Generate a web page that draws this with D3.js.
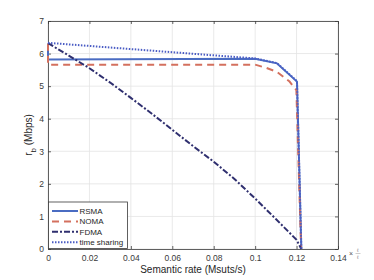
<!DOCTYPE html>
<html lang="en">
<head>
<meta charset="UTF-8"/>
<title>Rate region</title>
<script src="https://d3js.org/d3.v7.min.js"></script>
<style>
  body { margin: 0; background: #fff; }
  text { font-family: "Liberation Sans", Arial, sans-serif; }
</style>
</head>
<body>
<script>
    var w = 374;
    var h = 280;
    var margin = {left: 48, right: 36, top: 21, bottom: 31};

    // series: [semantic rate, r_b]
    var rsma = [[0, 6.3], [0, 5.82], [0.1, 5.84], [0.1105, 5.70], [0.1202, 5.14], [0.1223, 0]];
    var noma = [[0, 6.3], [0, 5.66], [0.1, 5.66], [0.1054, 5.56], [0.1105, 5.44], [0.1166, 5.14], [0.1199, 4.88], [0.1222, 0]];
    var fdma = [[0, 6.32], [0.01, 5.94], [0.02, 5.55], [0.03, 5.11], [0.04, 4.64], [0.05, 4.16], [0.06, 3.66],
                [0.07, 3.16], [0.08, 2.68], [0.09, 2.15], [0.1, 1.55], [0.11, 0.92], [0.12, 0.28], [0.1223, 0]];
    var timeSharing = [[0, 6.33], [0.1, 5.85], [0.1105, 5.71], [0.1202, 5.15], [0.1223, 0]];

    var xTicks = [0, 0.02, 0.04, 0.06, 0.08, 0.1, 0.12, 0.14];
    var yTicks = [0, 1, 2, 3, 4, 5, 6, 7];
    var names = ["RSMA", "NOMA", "FDMA", "time sharing"];

    var series = [
        {name: names[0], data: rsma, color: "#4a6cc2", dash: null},
        {name: names[1], data: noma, color: "#d4705e", dash: "7,5"},
        {name: names[2], data: fdma, color: "#2f2f6f", dash: "6,2,2,2"},
        {name: names[3], data: timeSharing, color: "#4a5cc4", dash: "1.5,1.5"}
    ];

    var svg = d3.select("body")
        .append("svg")
        .attr("width", w)
        .attr("height", h);

    var xScale = d3.scaleLinear()
        .domain([0, 0.14])
        .range([margin.left, w - margin.right]);

    var yScale = d3.scaleLinear()
        .domain([0, 7])
        .range([h - margin.bottom, margin.top]);

    // grid
    svg.append("g")
        .selectAll("line.gx")
        .data(xTicks)
        .enter()
        .append("line")
        .attr("x1", function(d) { return xScale(d); })
        .attr("x2", function(d) { return xScale(d); })
        .attr("y1", yScale(0))
        .attr("y2", yScale(7))
        .attr("stroke", "#e3e3e3")
        .attr("stroke-width", 0.8);

    svg.append("g")
        .selectAll("line.gy")
        .data(yTicks)
        .enter()
        .append("line")
        .attr("x1", xScale(0))
        .attr("x2", xScale(0.14))
        .attr("y1", function(d) { return yScale(d); })
        .attr("y2", function(d) { return yScale(d); })
        .attr("stroke", "#e3e3e3")
        .attr("stroke-width", 0.8);

    // axes, ticks inward like matlab
    var xAxis = d3.axisBottom(xScale).tickValues(xTicks).tickSizeInner(-3).tickSizeOuter(0)
        .tickFormat(function(d) { return d === 0 ? "0" : String(+d.toFixed(2)); });
    var yAxis = d3.axisLeft(yScale).tickValues(yTicks).tickSizeInner(-3).tickSizeOuter(0)
        .tickFormat(d3.format("d"));

    var gx = svg.append("g")
        .attr("transform", "translate(0," + yScale(0) + ")")
        .call(xAxis);
    var gy = svg.append("g")
        .attr("transform", "translate(" + xScale(0) + ",0)")
        .call(yAxis);

    svg.append("g")
        .attr("transform", "translate(0," + yScale(7) + ")")
        .call(d3.axisTop(xScale).tickValues(xTicks).tickSizeInner(-3).tickSizeOuter(0).tickFormat(""));
    svg.append("g")
        .attr("transform", "translate(" + xScale(0.14) + ",0)")
        .call(d3.axisRight(yScale).tickValues(yTicks).tickSizeInner(-3).tickSizeOuter(0).tickFormat(""));

    svg.selectAll(".domain").attr("stroke", "#3a3a3a").attr("stroke-width", 0.8);
    svg.selectAll(".tick line").attr("stroke", "#3a3a3a").attr("stroke-width", 0.8);
    svg.selectAll(".tick text").attr("fill", "#3a3a3a").attr("font-size", "8.5px")
        .attr("font-family", "Liberation Sans, Arial, sans-serif");
    gx.selectAll(".tick text").attr("y", 6).attr("dy", "0.71em");
    gy.selectAll(".tick text").attr("x", -4);

    // curves
    var line = d3.line()
        .x(function(d) { return xScale(d[0]); })
        .y(function(d) { return yScale(d[1]); });

    svg.selectAll("path.series")
        .data(series)
        .enter()
        .append("path")
        .attr("class", "series")
        .attr("d", function(d) { return line(d.data); })
        .attr("fill", "none")
        .attr("stroke", function(d) { return d.color; })
        .attr("stroke-width", 2)
        .attr("stroke-dasharray", function(d) { return d.dash; });

    // legend
    var legend = svg.append("g");
    legend.append("rect")
        .attr("x", xScale(0) + 0.5)
        .attr("y", 202)
        .attr("width", 79)
        .attr("height", yScale(0) - 202 - 0.5)
        .attr("fill", "#fff")
        .attr("stroke", "#3a3a3a")
        .attr("stroke-width", 0.8);

    var item = legend.selectAll("g.item")
        .data(series)
        .enter()
        .append("g")
        .attr("transform", function(d, i) { return "translate(0," + (211 + i * 10.4) + ")"; });

    item.append("line")
        .attr("x1", 52)
        .attr("x2", 78)
        .attr("y1", 0)
        .attr("y2", 0)
        .attr("stroke", function(d) { return d.color; })
        .attr("stroke-width", 2)
        .attr("stroke-dasharray", function(d) { return d.dash; });

    item.append("text")
        .attr("x", 79.5)
        .attr("y", 3)
        .attr("font-size", "8px")
        .attr("fill", "#262626")
        .text(function(d) { return d.name; });

    // axis labels
    svg.append("text")
        .attr("x", (xScale(0) + xScale(0.14)) / 2)
        .attr("y", 273)
        .attr("text-anchor", "middle")
        .attr("font-size", "10px")
        .attr("fill", "#262626")
        .text("Semantic rate (Msuts/s)");

    var ylab = svg.append("text")
        .attr("transform", "translate(32," + ((yScale(0) + yScale(7)) / 2) + ") rotate(-90)")
        .attr("text-anchor", "middle")
        .attr("font-size", "10px")
        .attr("fill", "#262626");
    ylab.append("tspan").text("r");
    ylab.append("tspan").attr("font-size", "8px").attr("dy", 4).text("b");
    ylab.append("tspan").attr("dy", -4).text(" (Mbps)");

    // exponent marker
    svg.append("text")
        .attr("x", 349)
        .attr("y", 256)
        .attr("font-size", "7px")
        .attr("fill", "#555")
        .text("\u00d7");
    svg.append("text")
        .attr("x", 357)
        .attr("y", 252)
        .attr("font-size", "5px")
        .attr("fill", "#777")
        .text("\u2113");
    svg.append("line")
        .attr("x1", 355.5).attr("x2", 360.5).attr("y1", 253.5).attr("y2", 253.5)
        .attr("stroke", "#999").attr("stroke-width", 0.5);
    svg.append("text")
        .attr("x", 357)
        .attr("y", 258.5)
        .attr("font-size", "5px")
        .attr("fill", "#777")
        .text("\u2113");
</script>
</body>
</html>
